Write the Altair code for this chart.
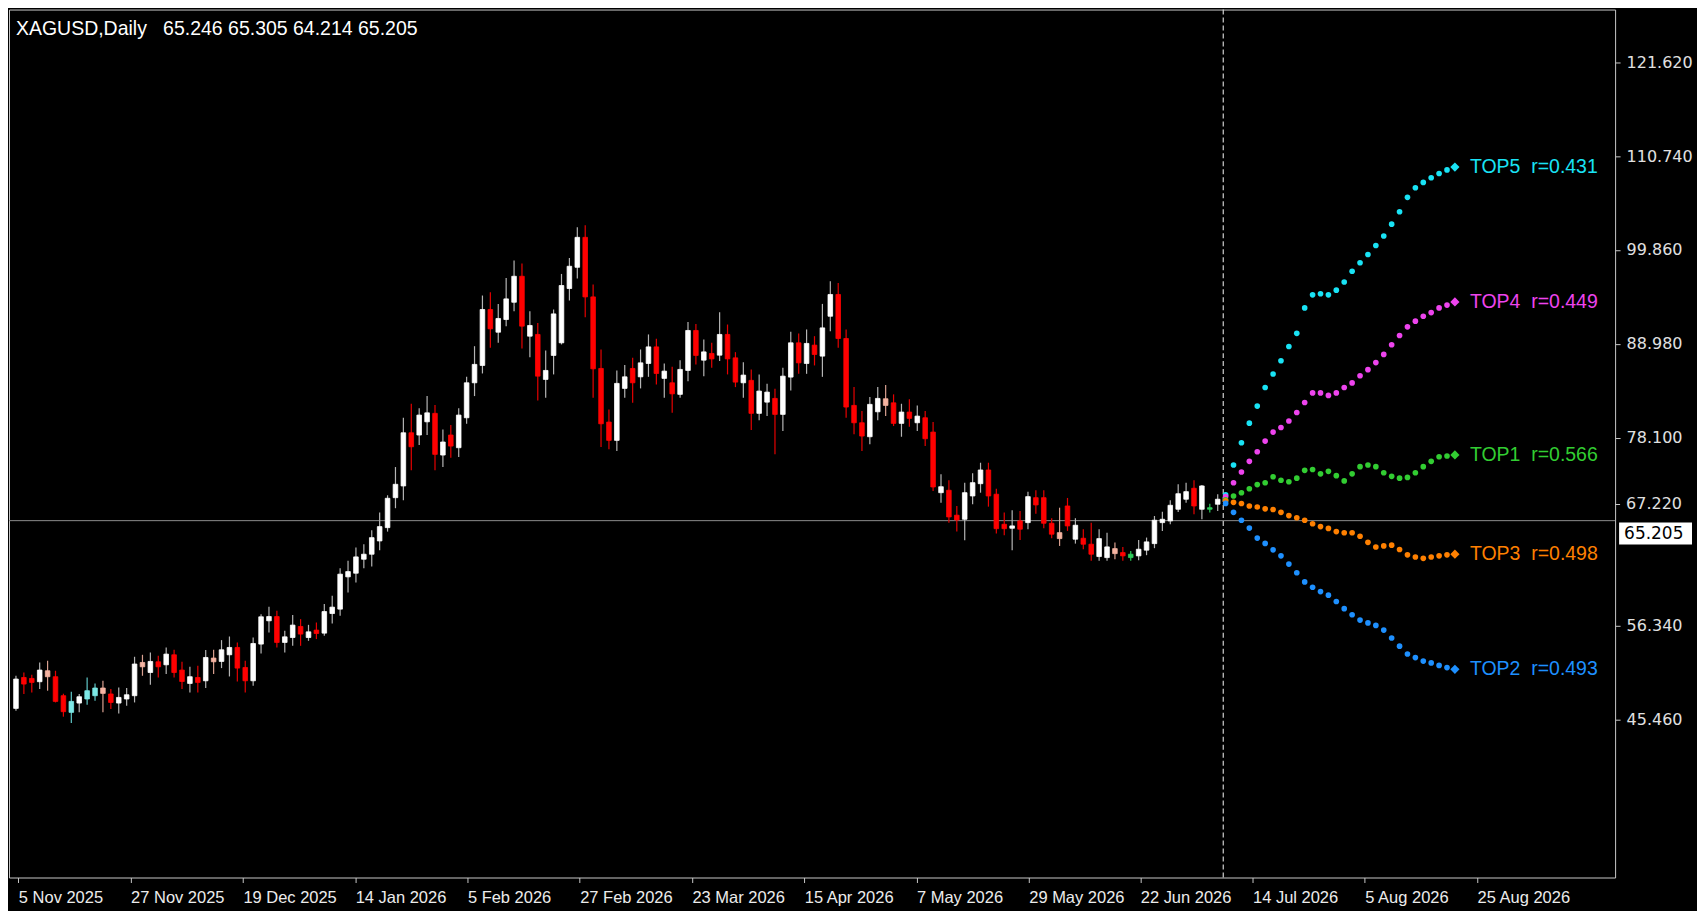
import altair as alt
import pandas as pd

# ---------------- data ----------------
candle_open = [46.75, 50.33, 50.22, 49.84, 50.42, 50.42, 48.22, 46.29, 47.37, 47.84,
               48.22, 48.49, 48.42, 47.37, 47.84, 48.22, 51.57, 50.91, 52.15, 51.80,
               52.96, 51.19, 49.64, 50.33, 49.95, 52.15, 52.19, 52.96, 53.81, 51.49,
               49.95, 54.20, 56.90, 57.39, 54.39, 54.96, 56.24, 54.96, 55.82, 55.47,
               57.74, 58.25, 61.99, 62.41, 64.03, 64.61, 66.15, 67.69, 71.16, 72.52,
               78.68, 78.42, 79.95, 80.93, 76.10, 78.42, 76.95, 80.42, 84.47, 86.48,
               92.96, 90.33, 91.80, 93.80, 96.81, 89.87, 90.07, 84.86, 87.64, 89.10,
               95.39, 97.85, 101.32, 94.42, 86.13, 79.92, 77.80, 83.82, 86.13, 85.16,
               86.71, 88.63, 84.98, 84.47, 83.13, 85.90, 90.53, 87.09, 87.87, 87.67,
               90.07, 87.36, 84.47, 84.75, 80.93, 82.23, 82.66, 80.81, 85.13, 89.10,
               86.71, 88.83, 87.56, 92.18, 94.70, 89.60, 81.85, 79.84, 78.22, 81.11,
               81.85, 82.15, 79.77, 81.08, 79.84, 80.42, 78.76, 71.74, 72.02, 69.13,
               68.66, 71.36, 72.78, 74.37, 71.56, 68.08, 67.62, 68.47, 68.27, 71.16,
               71.16, 68.20, 67.11, 70.20, 66.35, 66.46, 65.77, 64.34, 64.22, 64.68,
               64.80, 64.22, 64.42, 65.08, 65.84, 68.27, 68.47, 69.82, 70.98, 72.25,
               69.82, 69.82, 70.40]
candle_high = [50.53, 50.91, 50.65, 52.07, 52.27, 51.11, 48.45, 48.68, 48.42, 50.33,
               49.64, 49.95, 48.99, 49.18, 49.11, 52.73, 52.96, 53.23, 52.85, 53.81,
               53.54, 52.15, 51.57, 51.69, 53.51, 53.54, 54.66, 55.08, 54.39, 52.27,
               54.96, 57.67, 58.52, 58.05, 55.74, 57.56, 57.09, 56.43, 56.70, 58.83,
               59.79, 62.99, 63.84, 65.38, 65.77, 67.39, 69.43, 71.44, 74.71, 80.42,
               82.04, 81.51, 82.93, 81.89, 79.07, 79.57, 81.51, 85.16, 88.71, 94.58,
               94.96, 93.61, 96.62, 98.63, 98.28, 92.76, 91.41, 88.22, 92.96, 97.08,
               98.93, 102.48, 102.71, 95.85, 88.33, 81.39, 85.90, 86.52, 87.36, 88.33,
               90.07, 89.56, 86.71, 86.32, 87.09, 91.52, 91.29, 89.49, 89.10, 92.65,
               91.22, 88.02, 86.86, 86.02, 85.44, 84.35, 83.77, 86.20, 90.37, 90.18,
               90.65, 89.87, 93.61, 96.23, 96.04, 90.65, 83.97, 81.19, 82.81, 83.97,
               84.20, 83.13, 82.04, 82.55, 81.85, 81.19, 79.92, 73.87, 73.18, 70.20,
               72.90, 73.98, 75.21, 75.21, 72.20, 69.43, 69.70, 69.62, 71.86, 72.02,
               72.02, 68.78, 70.00, 71.13, 68.78, 67.51, 68.27, 67.51, 67.11, 65.96,
               65.46, 64.99, 66.27, 66.54, 69.04, 69.54, 70.86, 72.71, 72.90, 73.18,
               72.63, 70.47, 71.56]
candle_low = [46.48, 48.42, 48.60, 48.99, 48.80, 47.44, 45.79, 45.06, 46.29, 47.18,
              47.64, 46.29, 46.68, 46.17, 47.06, 47.44, 50.53, 49.49, 50.33, 50.73,
              50.33, 48.99, 48.60, 48.60, 49.11, 50.73, 51.42, 50.45, 49.87, 48.60,
              49.38, 53.11, 55.54, 53.81, 53.23, 54.00, 54.00, 54.58, 54.78, 55.16,
              56.58, 57.47, 60.17, 61.33, 62.99, 63.18, 65.08, 67.23, 69.94, 70.86,
              74.33, 77.26, 78.42, 74.33, 74.71, 75.79, 75.87, 79.72, 82.93, 85.55,
              88.52, 89.10, 91.03, 92.76, 88.45, 87.44, 82.43, 82.73, 85.44, 88.91,
              94.00, 96.55, 92.07, 82.73, 77.03, 76.76, 76.57, 82.73, 82.15, 83.82,
              85.16, 84.28, 82.73, 80.99, 82.73, 84.66, 86.60, 85.24, 86.20, 86.98,
              85.44, 83.97, 82.73, 78.99, 80.12, 80.61, 76.18, 78.88, 83.59, 85.51,
              85.51, 86.48, 85.16, 90.45, 88.52, 80.42, 78.50, 76.57, 77.34, 80.12,
              80.61, 79.46, 78.22, 79.38, 78.88, 77.14, 71.94, 70.58, 68.27, 67.23,
              66.23, 70.40, 71.74, 70.12, 67.00, 66.81, 65.08, 66.27, 67.51, 69.31,
              67.62, 66.46, 65.57, 67.31, 65.84, 65.19, 63.84, 63.84, 63.84, 64.03,
              63.84, 63.84, 63.92, 64.50, 65.31, 67.31, 68.08, 69.51, 70.58, 69.24,
              68.66, 69.43, 69.62]
candle_close = [50.15, 49.57, 49.76, 51.19, 51.11, 47.56, 46.37, 47.56, 48.10, 48.80,
                49.11, 49.11, 47.44, 48.02, 48.33, 51.89, 52.07, 52.19, 51.57, 53.04,
                50.91, 49.87, 50.42, 49.76, 52.65, 52.58, 53.54, 53.81, 51.42, 49.95,
                54.27, 57.36, 57.39, 54.39, 55.04, 56.40, 55.36, 55.62, 55.43, 57.97,
                58.48, 62.30, 62.60, 64.30, 64.61, 66.53, 67.81, 71.09, 72.71, 78.68,
                77.06, 80.73, 80.99, 76.18, 77.61, 77.14, 80.73, 84.47, 86.60, 92.96,
                90.72, 91.92, 94.19, 96.81, 91.03, 91.11, 85.24, 85.90, 92.45, 95.74,
                97.97, 101.32, 94.42, 86.09, 79.72, 77.80, 84.40, 85.16, 84.47, 86.78,
                88.63, 85.55, 85.82, 83.19, 86.02, 90.53, 87.64, 88.05, 87.24, 90.07,
                87.24, 84.55, 85.36, 80.93, 83.51, 83.39, 80.81, 85.24, 89.10, 86.78,
                89.03, 87.75, 90.83, 94.70, 89.60, 81.66, 79.84, 78.30, 81.97, 82.66,
                82.62, 79.77, 81.08, 80.35, 80.61, 77.99, 72.40, 72.43, 68.93, 68.58,
                71.74, 72.90, 74.37, 71.36, 67.57, 67.57, 67.89, 67.51, 71.28, 70.32,
                68.20, 66.93, 66.42, 67.89, 67.97, 65.77, 64.61, 66.42, 65.46, 65.26,
                64.42, 64.61, 65.19, 66.04, 68.55, 68.66, 70.28, 71.62, 71.86, 70.20,
                72.52, 70.00, 70.98]
# w = white (up), r = red (down), p = pink, c = cyan, g = green highlighted bars
candle_kind = list("".join([
    "wrrwprrcwc", "cprwwwpwrw", "rrwrwpwwrr", "wwwrwwrwrw", "wwwwwwwwww",
    "rwwrwrwwww", "rwwwrwrwww", "wwrrrrwwrw", "wrwrwwrwrw", "rrwrwwrwwr",
    "wrwwrrrrww", "prwrwrrwrr", "wwwrrrwrwr", "rrprwrrwwp", "rgwwwwwwwr",
    "wgw"]))

tick_bars = [0.3, 14.5, 28.7, 42.9, 57.1, 71.3, 85.5, 99.7, 113.9, 128.1,
             142.2, 156.4, 170.6, 184.8]
tick_labels = ["5 Nov 2025", "27 Nov 2025", "19 Dec 2025", "14 Jan 2026",
               "5 Feb 2026", "27 Feb 2026", "23 Mar 2026", "15 Apr 2026",
               "7 May 2026", "29 May 2026", "22 Jun 2026", "14 Jul 2026",
               "5 Aug 2026", "25 Aug 2026"]
y_tick_values = [121.62, 110.74, 99.86, 88.98, 78.10, 56.34, 45.46]
displaced_tick_label = ["67.220"]
displaced_tick_level = [70.37]
price_line_level = [68.5]
price_label = ["65.205"]
price_label_level = [67.0]
now_line_bar = [152.7]
header_text = ["XAGUSD,Daily\u00a0\u00a0\u00a065.246 65.305 64.214 65.205"]

proj_start_bar = 153
proj_names = ["TOP5", "TOP4", "TOP1", "TOP3", "TOP2"]
proj_r = ["0.431", "0.449", "0.566", "0.498", "0.493"]
proj_colors = ["#19e3f5", "#ee44ee", "#32cd32", "#ff8000", "#1e90ff"]
top5 = [71.5, 74.95, 77.52, 79.79, 81.77, 83.92, 85.49, 87.02, 88.67, 90.20, 93.14,
        94.66, 94.79, 94.66, 95.20, 96.15, 97.39, 98.38, 99.33, 100.37, 101.48,
        102.85, 104.29, 105.95, 107.06, 107.68, 108.22, 108.71, 109.13, 109.46]
top4 = [71.3, 72.89, 74.13, 75.37, 76.48, 77.72, 78.76, 79.29, 80.04, 81.03, 82.19,
        83.30, 83.30, 83.01, 83.30, 83.92, 84.46, 85.28, 85.99, 86.81, 87.76,
        88.88, 89.95, 90.95, 91.61, 92.18, 92.60, 93.14, 93.47, 93.84]
top1 = [70.9, 71.36, 71.73, 72.19, 72.68, 72.89, 73.59, 73.18, 73.01, 73.42, 74.33,
        74.42, 73.92, 74.21, 73.71, 73.10, 73.92, 74.75, 74.95, 74.75, 74.05,
        73.63, 73.42, 73.51, 74.05, 74.75, 75.37, 75.90, 75.99, 76.11]
top3 = [70.8, 70.62, 70.49, 70.20, 70.08, 69.87, 69.79, 69.46, 69.09, 68.84, 68.55,
        68.14, 67.81, 67.60, 67.23, 67.10, 67.10, 66.69, 65.99, 65.45, 65.57,
        65.66, 65.16, 64.54, 64.29, 64.13, 64.29, 64.42, 64.54, 64.62]
top2 = [70.5, 69.46, 68.55, 67.64, 66.48, 65.86, 65.12, 64.42, 63.47, 62.47, 61.40,
        60.78, 60.28, 59.87, 59.13, 58.30, 57.60, 56.98, 56.65, 56.36, 55.82,
        54.91, 53.96, 53.05, 52.64, 52.23, 52.02, 51.73, 51.48, 51.28]
proj_series = [top5, top4, top1, top3, top2]

# ---------------- styling ----------------
W, H = 1608, 869
X_DOMAIN = [-0.25, 201.63]
Y_DOMAIN = [27.16, 127.71]
SANS = "Liberation Sans, Arial, sans-serif"
WIDE = "DejaVu Sans, Verdana, sans-serif"
body_colors = {"w": "#ffffff", "r": "#ff0000", "p": "#f5b4a2", "c": "#7de8e6", "g": "#2ecc5a"}
wick_colors = {"w": "#b4b4b4", "r": "#e60000", "p": "#d9a090", "c": "#60c8c8", "g": "#2ecc5a"}

n = len(candle_open)
assert len(candle_high) == n and len(candle_low) == n and len(candle_close) == n and len(candle_kind) == n

candles = pd.DataFrame({
    "bar": list(range(n)),
    "open": candle_open, "high": candle_high, "low": candle_low, "close": candle_close,
    "body_color": [body_colors[k] for k in candle_kind],
    "wick_color": [wick_colors[k] for k in candle_kind],
})

rows, ends = [], []
for name, r, col, vals in zip(proj_names, proj_r, proj_colors, proj_series):
    for j, v in enumerate(vals):
        rows.append({"bar": proj_start_bar + j, "value": v, "color": col, "series": name,
                     "is_end": j == len(vals) - 1})
    ends.append({"bar": proj_start_bar + len(vals) - 1, "value": vals[-1], "color": col,
                 "label": f"{name}\u00a0\u00a0r={r}"})
proj = pd.DataFrame(rows)
dots = proj[~proj["is_end"]]
end_pts = pd.DataFrame(ends)

label_expr = ("[" + ",".join(f"'{t}'" for t in tick_labels) + "][indexof(["
              + ",".join(str(b) for b in tick_bars) + "], datum.value)]")

x_scale = alt.Scale(domain=X_DOMAIN, nice=False, zero=False)
y_scale = alt.Scale(domain=Y_DOMAIN, nice=False, zero=False)
x_axis = alt.Axis(values=tick_bars, labelExpr=label_expr, orient="bottom", title=None,
                  grid=False, domain=False, labelAlign="left", labelBaseline="top",
                  labelFlush=False, labelOverlap=False, labelFont=SANS, labelFontSize=16.5,
                  labelColor="#ececec", labelPadding=7, tickColor="#c8c8c8", tickSize=5)
y_axis = alt.Axis(values=y_tick_values, format=".3f", orient="right", title=None,
                  grid=False, domain=False, labelFlush=False, labelOverlap=False,
                  labelFont=WIDE, labelFontSize=16, labelColor="#e0e0e0",
                  labelPadding=6, tickColor="#c8c8c8", tickSize=5)

X = lambda f: alt.X(f, type="quantitative", scale=x_scale, axis=x_axis)
Y = lambda f: alt.Y(f, type="quantitative", scale=y_scale, axis=y_axis)

price_df = pd.DataFrame({"level": price_line_level})
now_df = pd.DataFrame({"bar": now_line_bar})

price_line = alt.Chart(price_df).mark_rule(color="#8c8c8c", strokeWidth=1).encode(y=Y("level"))
now_line = alt.Chart(now_df).mark_rule(color="#d0d0d0", strokeWidth=1.2, strokeDash=[5, 3]).encode(x=X("bar"))

wicks = alt.Chart(candles).mark_rule(strokeWidth=1.2).encode(
    x=X("bar"), y=Y("low"), y2="high", color=alt.Color("wick_color:N", scale=None))
bodies = alt.Chart(candles).mark_bar(size=4.6, strokeWidth=0.8).encode(
    x=X("bar"), y=Y("open"), y2="close",
    color=alt.Color("body_color:N", scale=None),
    stroke=alt.Stroke("body_color:N", scale=None))

proj_dots = alt.Chart(dots).mark_circle(size=32, opacity=1).encode(
    x=X("bar"), y=Y("value"), color=alt.Color("color:N", scale=None))
proj_end = alt.Chart(end_pts).mark_point(shape="diamond", filled=True, size=85, opacity=1).encode(
    x=X("bar"), y=Y("value"), color=alt.Color("color:N", scale=None))
proj_labels = alt.Chart(end_pts).mark_text(align="left", baseline="middle", dx=15,
                                           font=SANS, fontSize=19.5).encode(
    x=X("bar"), y=Y("value"), text="label:N", color=alt.Color("color:N", scale=None))

header_df = pd.DataFrame({"label": header_text})
header = alt.Chart(header_df).mark_text(align="left", baseline="middle", font=SANS,
                                        fontSize=19.5, color="#ffffff").encode(
    x=alt.value(7), y=alt.value(19), text="label:N")

disp_df = pd.DataFrame({"level": displaced_tick_level, "label": displaced_tick_label})
disp_tick = alt.Chart(disp_df).mark_rule(color="#c8c8c8").encode(
    x=alt.value(W), x2=alt.value(W + 5), y=Y("level"))
disp_text = alt.Chart(disp_df).mark_text(align="left", baseline="middle", font=WIDE,
                                         fontSize=16, color="#e0e0e0").encode(
    x=alt.value(W + 11), y=Y("level"), text="label:N")

px_per_unit = H / (Y_DOMAIN[1] - Y_DOMAIN[0])
box_df = pd.DataFrame({"level": price_label_level, "label": price_label,
                       "lo": [price_label_level[0] - 11 / px_per_unit],
                       "hi": [price_label_level[0] + 11 / px_per_unit]})
price_box = alt.Chart(box_df).mark_rect(color="#ffffff").encode(
    x=alt.value(W + 4), x2=alt.value(W + 77), y=Y("lo"), y2="hi")
price_text = alt.Chart(box_df).mark_text(align="left", baseline="middle", font=WIDE,
                                         fontSize=17, color="#000000").encode(
    x=alt.value(W + 9), y=Y("level"), text="label:N")

chart = alt.layer(
    price_line, now_line, wicks, bodies, proj_dots, proj_end, proj_labels,
    header, disp_tick, disp_text, price_box, price_text
).properties(
    width=W, height=H, padding={"left": 0, "top": 0, "right": 4, "bottom": 4}
).configure(background="#000000").configure_view(stroke="#c8c8c8", strokeWidth=1)

chart.save("out.html", embed_options={"renderer": "svg", "actions": False})
